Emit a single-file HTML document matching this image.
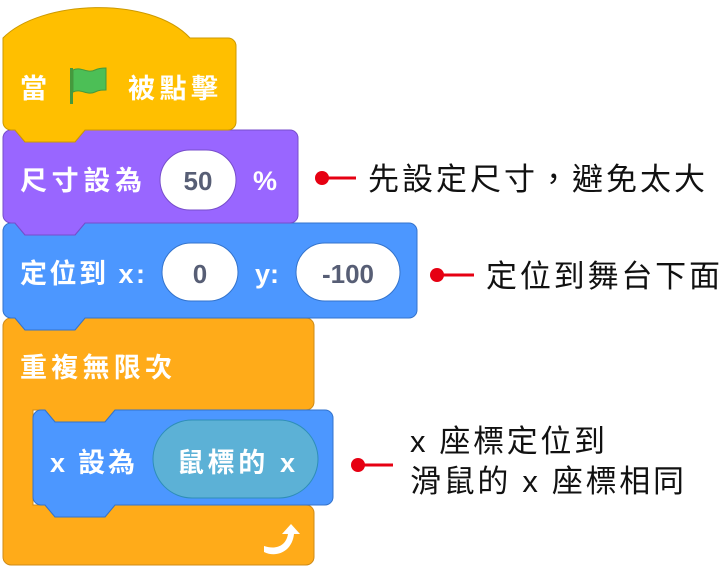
<!DOCTYPE html>
<html><head><meta charset="utf-8"><style>
html,body{margin:0;padding:0;background:#fff;width:724px;height:570px;overflow:hidden}
svg{display:block}
.w{fill:#fff;font-family:"Liberation Sans","Noto Sans CJK TC",sans-serif;font-weight:bold;font-size:27px}
.g{fill:#575E75;font-family:"Liberation Sans",sans-serif;font-weight:bold;font-size:26px}
.a{fill:#111;font-family:"Liberation Sans","Noto Sans CJK TC",sans-serif;font-size:31px}
</style></head><body>
<svg width="724" height="570" viewBox="0 0 724 570" xmlns="http://www.w3.org/2000/svg">
<!-- orange C block -->
<path d="M3,326 a8,8 0 0 1 8,-8 h4 l10,12 h50 l10,-12 h221 a8,8 0 0 1 8,8 v76 a8,8 0 0 1 -8,8 H115 l-10,12 H55 l-10,-12 H33 v95 H45 l10,12 h50 l10,-12 h191 a8,8 0 0 1 8,8 v44 a8,8 0 0 1 -8,8 H11 a8,8 0 0 1 -8,-8 Z" fill="#FFAB19" stroke="#CF8B17" stroke-width="1"/>
<!-- inner blue -->
<path d="M33,418 a8,8 0 0 1 8,-8 h4 l10,12 h50 l10,-12 h210 a8,8 0 0 1 8,8 v79 a8,8 0 0 1 -8,8 H115 l-10,12 H55 l-10,-12 h-4 a8,8 0 0 1 -8,-8 Z" fill="#4C97FF" stroke="#3373CC" stroke-width="1"/>
<rect x="153" y="420" width="165" height="78" rx="39" fill="#5CB1D6" stroke="#2E8EB8" stroke-width="1"/>
<!-- blue goto -->
<path d="M3,231 a8,8 0 0 1 8,-8 h4 l10,12 h50 l10,-12 h324 a8,8 0 0 1 8,8 v79 a8,8 0 0 1 -8,8 H85 l-10,12 H25 l-10,-12 h-4 a8,8 0 0 1 -8,-8 Z" fill="#4C97FF" stroke="#3373CC" stroke-width="1"/>
<!-- purple -->
<path d="M3,138 a8,8 0 0 1 8,-8 h4 l10,12 h50 l10,-12 h205 a8,8 0 0 1 8,8 v77 a8,8 0 0 1 -8,8 H85 l-10,12 H25 l-10,-12 h-4 a8,8 0 0 1 -8,-8 Z" fill="#9966FF" stroke="#774DCB" stroke-width="1"/>
<!-- hat -->
<path d="M3,38 C40,0 150,-5 190,38 h38 a8,8 0 0 1 8,8 v76 a8,8 0 0 1 -8,8 H85 l-10,12 H25 l-10,-12 h-4 a8,8 0 0 1 -8,-8 Z" fill="#FFBF00" stroke="#CC9900" stroke-width="1"/>
<!-- flag -->
<rect x="70" y="68" width="3" height="36" fill="#45993D"/>
<path d="M73,70 c8,-4 14,4 22,0 c4,-2 8,-2 11,-2 v22 c-4,0 -7,0 -11,2 c-8,4 -14,-4 -22,0 Z" fill="#4CBF56" stroke="#45993D" stroke-width="1"/>
<text class="w" x="20" y="98">當</text>
<text class="w" x="128" y="98" textLength="90">被點擊</text>
<text class="w" x="20" y="190" textLength="122">尺寸設為</text>
<rect x="160" y="150" width="76" height="60" rx="30" fill="#fff" stroke="#774DCB" stroke-width="1"/>
<text class="g" x="198" y="190" text-anchor="middle">50</text>
<text class="w" x="253" y="190">%</text>
<text class="w" x="20" y="283" textLength="125">定位到 x:</text>
<rect x="162" y="243" width="76" height="58" rx="29" fill="#fff" stroke="#3373CC" stroke-width="1"/>
<text class="g" x="200" y="283" text-anchor="middle">0</text>
<text class="w" x="255" y="283">y:</text>
<rect x="296" y="243" width="104" height="58" rx="29" fill="#fff" stroke="#3373CC" stroke-width="1"/>
<text class="g" x="348" y="283" text-anchor="middle">-100</text>
<text class="w" x="20" y="377" textLength="152">重複無限次</text>
<text class="w" x="50" y="472" textLength="85">x 設為</text>
<text class="w" x="177" y="472" textLength="118">鼠標的 x</text>
<!-- loop arrow -->
<path d="M264,546 c12,4 22,0 24,-12 l-6,0 l9,-10 l9,10 l-6,0 c-2,18 -18,24 -30,18 Z" fill="#fff"/>
<!-- annotations -->
<line x1="322" y1="178" x2="356" y2="178" stroke="#E60012" stroke-width="3"/>
<circle cx="322" cy="178" r="7" fill="#E60012"/>
<text class="a" x="368" y="190" textLength="337">先設定尺寸，避免太大</text>
<line x1="437" y1="275" x2="474" y2="275" stroke="#E60012" stroke-width="3"/>
<circle cx="437" cy="275" r="7" fill="#E60012"/>
<text class="a" x="486" y="287" textLength="234">定位到舞台下面</text>
<line x1="358" y1="465" x2="393" y2="465" stroke="#E60012" stroke-width="3"/>
<circle cx="358" cy="465" r="7" fill="#E60012"/>
<text class="a" x="410" y="452" textLength="195">x 座標定位到</text>
<text class="a" x="410" y="492" textLength="274">滑鼠的 x 座標相同</text>
</svg>
</body></html>
